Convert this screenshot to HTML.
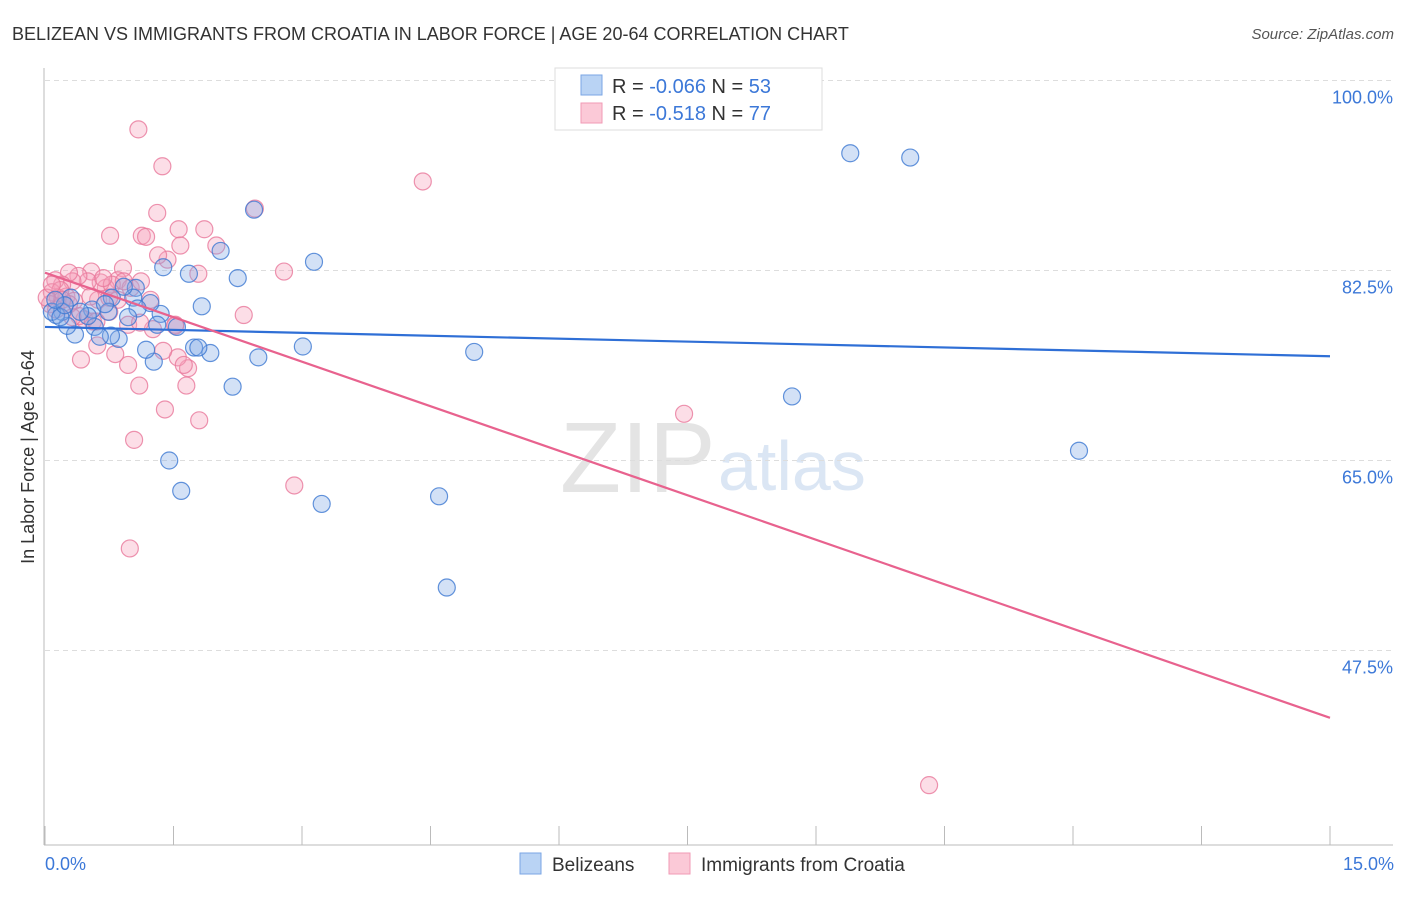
<!DOCTYPE html>
<html><head><meta charset="utf-8">
<style>
body{margin:0;background:#fff;font-family:"Liberation Sans",sans-serif;}
svg text{font-family:"Liberation Sans",sans-serif;}
</style></head>
<body>
<svg id="chart" width="1406" height="892" xmlns="http://www.w3.org/2000/svg">
<text x="12" y="40" font-size="18" fill="#333">BELIZEAN VS IMMIGRANTS FROM CROATIA IN LABOR FORCE | AGE 20-64 CORRELATION CHART</text>
<text x="1394" y="39" font-size="15" fill="#555" font-style="italic" text-anchor="end">Source: ZipAtlas.com</text>
<text x="560" y="492" font-size="100" fill="#e4e4e4" font-family="Liberation Serif">ZIP</text>
<text x="718" y="490" font-size="70" fill="#dbe6f4">atlas</text>
<g id="grid"></g>
<g id="axes"></g>
<g id="marks"></g>
<text transform="translate(34,457) rotate(-90)" font-size="18" fill="#333" text-anchor="middle">In Labor Force | Age 20-64</text>
<text x="45" y="870" font-size="18" fill="#3c78d8">0.0%</text>
<text x="1394" y="870" font-size="18" fill="#3c78d8" text-anchor="end">15.0%</text>
<g>
<rect x="555" y="68" width="267" height="62" fill="#fff" stroke="#ddd"/>
<rect x="581" y="75" width="21" height="20" fill="#b9d3f4" stroke="#7aa6e4"/>
<rect x="581" y="103" width="21" height="20" fill="#fbc9d7" stroke="#f09ab5"/>
<text x="612" y="93" font-size="20" fill="#333">R = <tspan fill="#3c78d8">-0.066</tspan>   N = <tspan fill="#3c78d8">53</tspan></text>
<text x="612" y="120" font-size="20" fill="#333">R =  <tspan fill="#3c78d8">-0.518</tspan>   N = <tspan fill="#3c78d8">77</tspan></text>
</g>
<g>
<rect x="520" y="853" width="21" height="21" fill="#b9d3f4" stroke="#7aa6e4"/>
<text x="552" y="871" font-size="19" fill="#333">Belizeans</text>
<rect x="669" y="853" width="21" height="21" fill="#fbc9d7" stroke="#f09ab5"/>
<text x="701" y="871" font-size="19" fill="#333">Immigrants from Croatia</text>
</g>
</svg>
<script>
const yTicks=[100,82.5,65,47.5];
const yTickLabels=["100.0%","82.5%","65.0%","47.5%"];
const xTicks=[0,1.5,3,4.5,6,7.5,9,10.5,12,13.5,15];
const blueX=[9.40,10.10,12.07,8.72,5.01,4.69,4.60,3.23,3.01,3.14,2.44,2.05,2.25,2.49,2.19,1.93,1.74,1.79,1.83,1.68,1.38,1.59,1.45,1.54,1.35,1.23,1.31,1.27,1.18,1.06,1.03,1.08,0.97,0.92,0.86,0.77,0.78,0.74,0.58,0.55,0.50,0.35,0.30,0.26,0.20,0.13,0.08,0.18,0.64,0.41,0.70,0.23,0.12];
const blueY=[93.3,92.9,65.9,70.9,75.0,53.3,61.7,61.0,75.5,83.3,88.1,84.3,81.8,74.5,71.8,74.9,75.4,75.4,79.2,82.2,82.8,62.2,65.0,77.3,78.5,79.5,77.5,74.1,75.2,80.9,80.0,79.0,78.2,81.0,76.2,76.5,80.0,78.7,77.3,78.9,78.3,76.6,80.0,77.4,78.7,78.4,78.7,78.2,76.4,78.7,79.4,79.3,79.8];
const pinkX=[1.09,1.37,4.41,10.32,7.46,2.91,2.79,2.32,2.45,1.86,2.00,1.31,1.56,1.58,1.13,1.18,0.76,1.43,1.32,1.79,1.80,1.40,1.65,1.67,1.55,1.52,1.38,1.26,1.10,1.04,0.99,0.97,0.82,0.61,0.42,0.91,0.85,1.00,0.71,0.65,0.54,0.50,0.39,0.32,0.28,0.20,0.12,0.08,0.15,0.25,0.34,0.06,0.13,0.46,0.40,0.62,0.75,0.97,1.11,0.78,0.53,0.18,1.62,1.23,0.56,0.85,0.28,0.20,0.68,0.02,1.12,1.52,0.60,0.92,0.08,0.32,0.75];
const pinkY=[95.5,92.1,90.7,35.1,69.3,62.7,82.4,78.4,88.2,86.3,84.8,87.8,86.3,84.8,85.7,85.6,85.7,83.5,83.9,82.2,68.7,69.7,71.9,73.5,74.5,77.5,75.1,77.1,71.9,66.9,56.9,73.8,74.8,75.6,74.3,82.7,81.6,80.9,80.9,81.4,82.4,81.5,82.0,81.5,82.3,81.2,81.6,80.5,80.0,80.1,79.7,79.4,78.9,78.0,78.3,79.8,78.7,77.5,77.7,81.2,80.1,80.7,73.8,79.8,77.8,79.8,79.4,79.8,81.8,80.0,81.5,77.4,77.8,81.5,81.2,78.2,80.0];
const blueTrend=[77.3,74.6];
const pinkTrend=[82.3,41.3];
const xDomain=[0,15];
const NS="http://www.w3.org/2000/svg";
function xs(v){return 45+(v-xDomain[0])/(xDomain[1]-xDomain[0])*1285;}
function ys(v){return 80.5+(100-v)*190/17.5;}
function mk(tag,attrs,parent){const e=document.createElementNS(NS,tag);for(const k in attrs)e.setAttribute(k,attrs[k]);parent.appendChild(e);return e;}
const grid=document.getElementById('grid'),axes=document.getElementById('axes'),marks=document.getElementById('marks');
yTicks.forEach((t,i)=>{
 const l=mk('line',{x1:45,x2:1393,y1:ys(t),y2:ys(t),stroke:'#ddd','stroke-dasharray':'5,4'},grid);
 
 
 const tx=mk('text',{x:1393,y:ys(t)+23,'font-size':18,fill:'#3c78d8','text-anchor':'end'},grid);
 tx.textContent=yTickLabels[i];
 
 
});
const ya=mk('line',{x1:44,x2:44,y1:68,y2:845,stroke:'#bbb'},axes);


const xa=mk('line',{x1:44,x2:1393,y1:845,y2:845,stroke:'#bbb'},axes);


xTicks.forEach(t=>{
 const l=mk('line',{x1:xs(t),x2:xs(t),y1:826,y2:845,stroke:'#bbb'},axes);
 
 
});
function pts(X,Y,fill,stroke,name){
 X.forEach((x,i)=>{
  const c=mk('circle',{cx:xs(x),cy:ys(Y[i]),r:8.5,fill:fill,stroke:stroke,'stroke-width':1.2},marks);
  
  
 });
}
pts(pinkX,pinkY,'rgba(246,160,186,0.35)','rgba(232,120,155,0.8)','croatia-point');
pts(blueX,blueY,'rgba(130,170,230,0.35)','rgba(60,120,210,0.8)','belizean-point');
const bl=mk('line',{x1:xs(xDomain[0]),y1:ys(blueTrend[0]),x2:xs(xDomain[1]),y2:ys(blueTrend[1]),stroke:'#2f6fd6','stroke-width':2.2},marks);


const pl=mk('line',{x1:xs(xDomain[0]),y1:ys(pinkTrend[0]),x2:xs(xDomain[1]),y2:ys(pinkTrend[1]),stroke:'#e8628e','stroke-width':2.2},marks);


</script>
</body></html>
